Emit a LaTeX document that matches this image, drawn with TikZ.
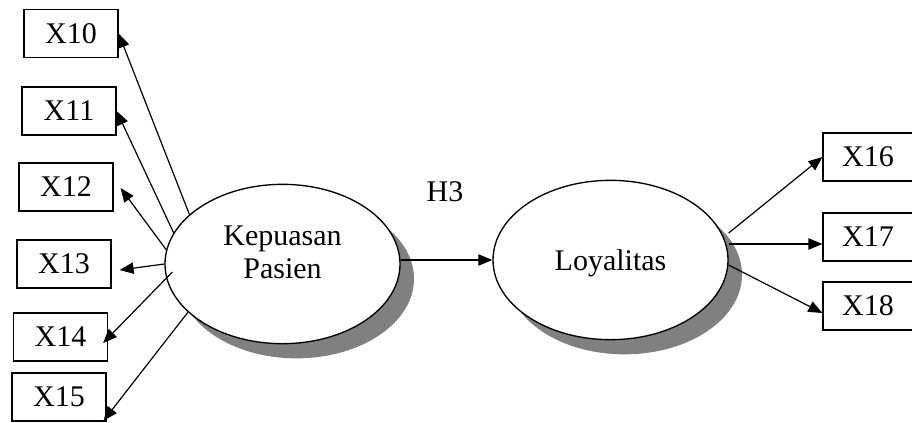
\documentclass[tikz,border=0pt]{standalone}
\usepackage{fontspec}
\setmainfont{Liberation Serif}
\usetikzlibrary{arrows.meta,shapes.geometric,shadows,calc}
\begin{document}
\begin{tikzpicture}[x=0.75pt,y=-0.75pt,
  every node/.style={font=\fontsize{22.5}{24.75}\selectfont},
  box/.style={draw,line width=0.9pt,rectangle,inner sep=0pt,minimum width=70.5pt,minimum height=36pt},
  rbox/.style={box,minimum width=67.5pt},
  lat/.style={draw,line width=1pt,ellipse,fill=white,inner sep=0pt,minimum width=176.25pt,minimum height=119.5pt,
    drop shadow={shadow xshift=10.5pt,shadow yshift=-11pt,fill=gray,opacity=1}},
  arr/.style={line width=0.9pt,-{Triangle[length=10.5pt,width=8.5pt]}},
  lbl/.style={align=center,inner sep=0pt}]
\useasboundingbox (0,0) rectangle (912,422);

% latent variables
\node[lat] (kp) at (282.5,264) {};
\node[lbl] (kptxt) at (282.5,252) {Kepuasan\\Pasien};
\node[lat] (ly) at (610.5,260) {};
\node[lbl] (lytxt) at (610.5,263) {Loyalitas};

% indicators left
\node[box] (x10) at (71,33.5) {X10};
\node[box] (x11) at (69,111) {X11};
\node[box] (x12) at (66,187) {X12};
\node[box] (x13) at (64,264) {X13};
\node[box] (x14) at (60.5,337) {X14};
\node[box] (x15) at (59,397) {X15};

% indicators right
\node[rbox] (x16) at (868,157) {X16};
\node[rbox] (x17) at (868,237) {X17};
\node[rbox] (x18) at (868,306) {X18};

% hypothesis label
\node[lbl] (h3) at (445,192) {H3};

% connectors left
\draw[arr] (kp.152.6) -- (x10.east);
\draw[arr] (kp.164) -- (x11.east);
\draw[arr] (kp.173) -- ($(x12.east)+(7,1)$);
\draw[arr] (kp.west) -- ($(x13.east)+(8,6)$);
\draw[arr] ($(kp.west)+(8,8)$) -- ($(x14.east)+(-5,6)$);
\draw[arr] (kp.207.4) -- ($(x15.south east)+(-3,-1)$);

% structural path
\draw[arr] (ly.west -| kp.east) -- (ly.west);

% connectors right
\draw[arr] ($(ly.east)+(0,-27)$) -- (x16.west);
\draw[arr] ($(ly.east)+(0,-16)$) -- ($(x17.west)+(0,7)$);
\draw[arr] ($(ly.east)+(0,5)$) -- ($(x18.west)+(0,7)$);
\end{tikzpicture}
\end{document}
